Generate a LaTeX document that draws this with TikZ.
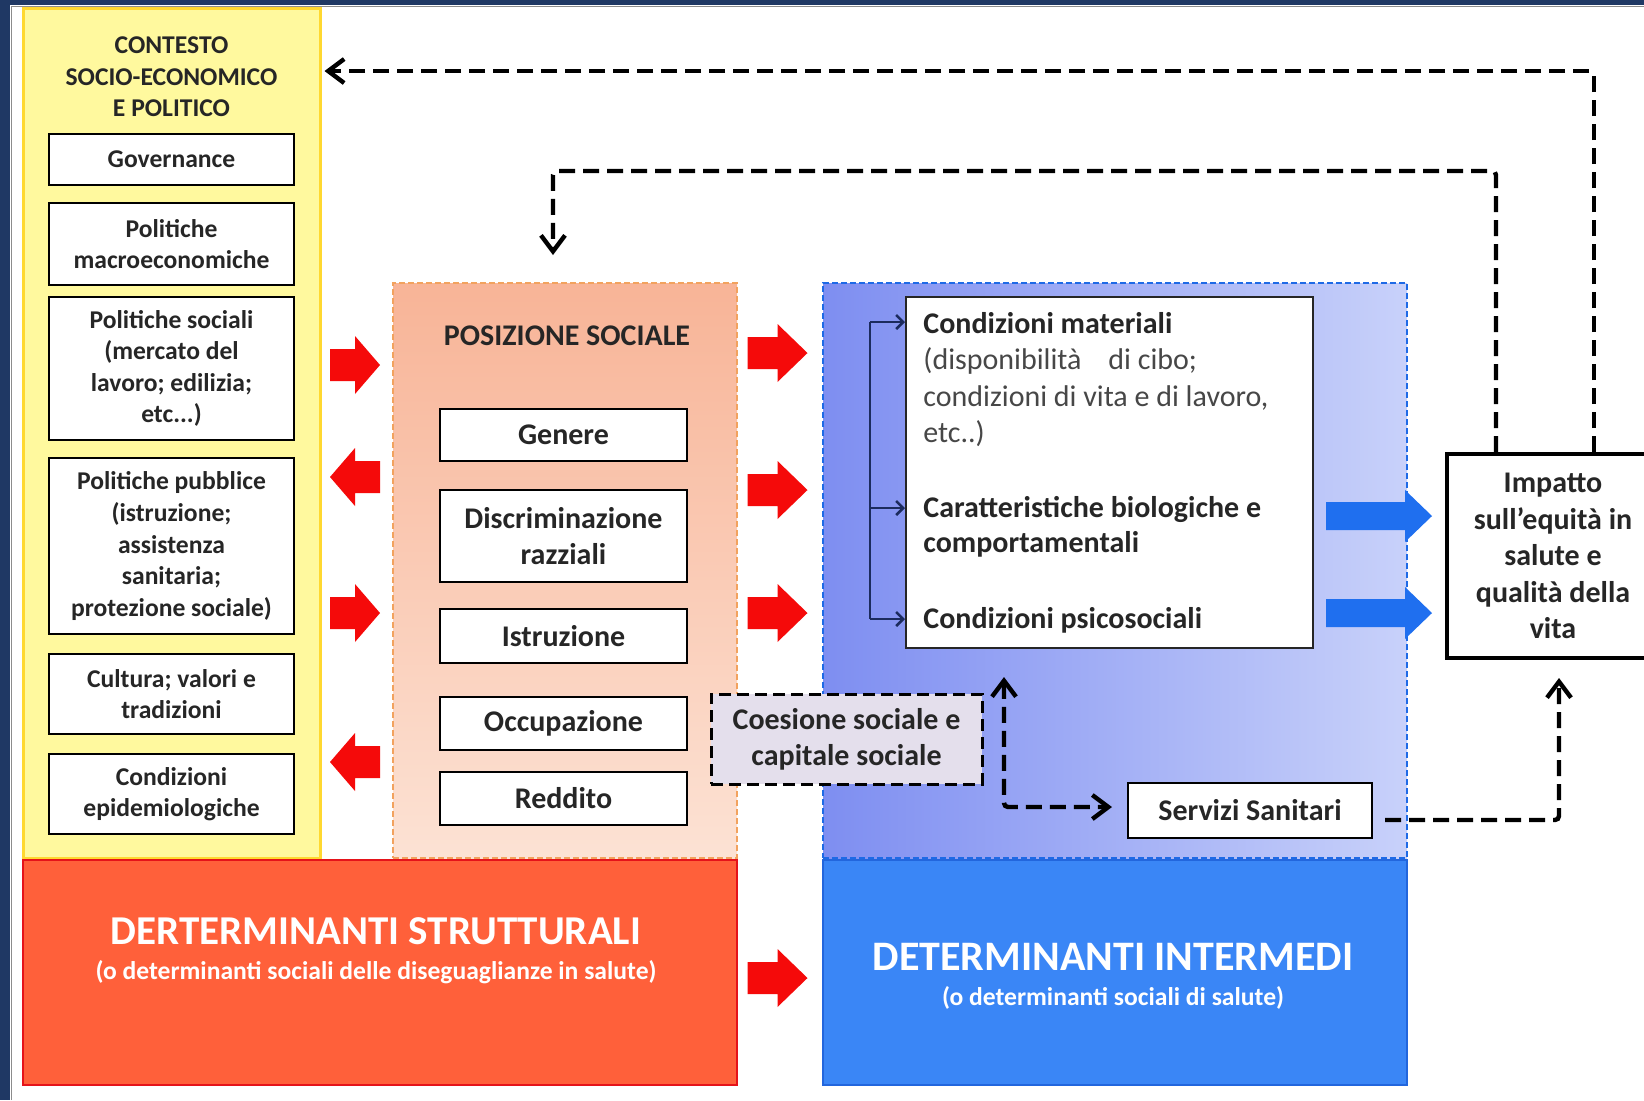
\documentclass[tikz,border=0pt]{standalone}
\usepackage{fontspec}
\setmainfont{Carlito}
\usetikzlibrary{arrows.meta}
\definecolor{navy}{HTML}{1F3864}
\definecolor{yfill}{HTML}{FFF99E}
\definecolor{ydraw}{HTML}{FFD830}
\definecolor{otop}{HTML}{F8B497}
\definecolor{obot}{HTML}{FCE2D4}
\definecolor{odraw}{HTML}{F2A25E}
\definecolor{bleft}{HTML}{7E8EF1}
\definecolor{bright}{HTML}{C8D1FA}
\definecolor{bdraw}{HTML}{1E6AE6}
\definecolor{rfill}{HTML}{FF603A}
\definecolor{rdraw}{HTML}{E5131A}
\definecolor{bbfill}{HTML}{3A86F6}
\definecolor{bbdraw}{HTML}{2266DD}
\definecolor{arrred}{HTML}{F50A0A}
\definecolor{arrblue}{HTML}{1F6FEF}
\definecolor{coes}{HTML}{E4DFEC}
\definecolor{txt}{HTML}{262626}
\definecolor{brkc}{HTML}{1C2B5E}
\begin{document}
\begin{tikzpicture}[x=0.5pt,y=-0.5pt,
  wl/.style={draw=black, line width=1pt, fill=white, inner sep=0pt, align=center, text=txt,
     font=\fontsize{12.8}{15.8}\selectfont\bfseries, minimum width=122.5pt},
  wo/.style={draw=black, line width=1.3pt, fill=white, inner sep=0pt, align=center, text=txt,
     font=\fontsize{15}{17.8}\selectfont\bfseries, minimum width=123.5pt},
  bigtxt/.style={font=\fontsize{15}{18.3}\selectfont\bfseries, text=txt, align=center},
  dashedge/.style={draw=black, line width=2.2pt, dash pattern=on 8pt off 4pt, rounded corners=2pt},
  tip/.style={-{Straight Barb[length=8pt,width=12pt]}},
  brkline/.style={draw=brkc, line width=1.3pt},
  brktip/.style={-{Straight Barb[length=3.5pt,width=7pt]}},
  redarr/.pic={\fill[arrred] (-25,-16) -- (0,-16) -- (0,-29) -- (25,0) -- (0,29) -- (0,16) -- (-25,16) -- cycle;},
  bluearr/.pic={\fill[arrblue] (-53,-14) -- (26,-14) -- (26,-26) -- (53,0) -- (26,26) -- (26,14) -- (-53,14) -- cycle;}
]
\useasboundingbox (0,0) rectangle (1644,1100);
\clip (0,0) rectangle (1644,1100);
% frame
\fill[navy] (0,0) rectangle (1644,1100);
\fill[white] (10,5) rectangle (1644,1100);
\draw[black!45, line width=0.8pt] (11.5,1100) -- (11.5,6.5) -- (1644,6.5);

% containers
\node[draw=ydraw, line width=1.5pt, fill=yfill, minimum width=148.5pt, minimum height=425pt, inner sep=0pt] (yel) at (171.5,433) {};
\node[draw=odraw, line width=0.8pt, dash pattern=on 3pt off 1.5pt, top color=otop, bottom color=obot, minimum width=172pt, minimum height=287.5pt, inner sep=0pt] (pos) at (565,570.5) {};
\node[draw=bdraw, line width=0.8pt, dash pattern=on 3pt off 1.5pt, left color=bleft, right color=bright, minimum width=292pt, minimum height=287.5pt, inner sep=0pt] (blu) at (1115,570.5) {};

% bottom boxes
\node[draw=rdraw, line width=1.2pt, fill=rfill, minimum width=357pt, minimum height=112.5pt, inner sep=0pt] (rbot) at (380,972.5) {};
\node[draw=bbdraw, line width=1.2pt, fill=bbfill, minimum width=292pt, minimum height=112.5pt, inner sep=0pt] (bbot) at (1115,972.5) {};
\node[text=white, font=\fontsize{20.5}{24}\selectfont\bfseries] (rt) at (376,931) {DERTERMINANTI STRUTTURALI};
\node[text=white, font=\fontsize{12.8}{15}\selectfont\bfseries] (rs) at (376,972) {(o determinanti sociali delle diseguaglianze in salute)};
\node[text=white, font=\fontsize{21}{24}\selectfont\bfseries] (bt) at (1113,957) {DETERMINANTI INTERMEDI};
\node[text=white, font=\fontsize{12.8}{15}\selectfont\bfseries] (bs) at (1113,998) {(o determinanti sociali di salute)};

% left column
\node[font=\fontsize{12.8}{15.75}\selectfont\bfseries, text=txt, align=center] (ctx) at (171.5,77) {CONTESTO\\SOCIO-ECONOMICO\\E POLITICO};
\node[wl, minimum height=25.5pt] (gov) at (171.5,159.5) {Governance};
\node[wl, minimum height=41pt] (macro) at (171.5,244) {Politiche\\macroeconomiche};
\node[wl, minimum height=71.5pt] (soc) at (171.5,368.5) {Politiche sociali\\(mercato del\\lavoro; edilizia;\\etc...)};
\node[wl, minimum height=88pt] (pub) at (171.5,546) {Politiche pubblice\\(istruzione;\\assistenza\\sanitaria;\\protezione sociale)};
\node[wl, minimum height=40pt] (cul) at (171.5,694) {Cultura; valori e\\tradizioni};
\node[wl, minimum height=40pt] (epi) at (171.5,794) {Condizioni\\epidemiologiche};

% posizione sociale
\node[font=\fontsize{15}{18}\selectfont\bfseries, text=txt] (pstitle) at (567,336) {POSIZIONE SOCIALE};
\node[wo, minimum height=26pt] (gen) at (563.5,435) {Genere};
\node[wo, minimum height=46pt] (dis) at (563.5,536) {Discriminazione\\razziali};
\node[wo, minimum height=27pt] (ist) at (563.5,636) {Istruzione};
\node[wo, minimum height=26.5pt] (occ) at (563.5,723.5) {Occupazione};
\node[wo, minimum height=26.5pt] (red) at (563.5,798.5) {Reddito};

% intermediate
\node[draw=black!85, line width=1pt, fill=white, minimum width=203.5pt, minimum height=175.5pt, inner sep=0pt] (cond) at (1109.5,472.5) {};
\node[anchor=base west, inner sep=0pt, font=\fontsize{15}{18}\selectfont\bfseries, text=txt] (l1) at (923,333) {Condizioni materiali};
\node[anchor=base west, inner sep=0pt, font=\fontsize{15}{18}\selectfont, text=black!72] (l2) at (923,369) {(disponibilità\hspace{0.9em}di cibo;};
\node[anchor=base west, inner sep=0pt, font=\fontsize{15}{18}\selectfont, text=black!72] (l3) at (923,406) {condizioni di vita e di lavoro,};
\node[anchor=base west, inner sep=0pt, font=\fontsize{15}{18}\selectfont, text=black!72] (l4) at (923,442) {etc..)};
\node[anchor=base west, inner sep=0pt, font=\fontsize{15}{18}\selectfont\bfseries, text=txt] (l5) at (923,517) {Caratteristiche biologiche e};
\node[anchor=base west, inner sep=0pt, font=\fontsize{15}{18}\selectfont\bfseries, text=txt] (l6) at (923,552) {comportamentali};
\node[anchor=base west, inner sep=0pt, font=\fontsize{15}{18}\selectfont\bfseries, text=txt] (l7) at (923,628) {Condizioni psicosociali};

\node[draw=black, line width=2pt, fill=white, minimum width=106.5pt, minimum height=102pt, inner sep=0pt, bigtxt] (imp) at (1553,556) {Impatto\\sull’equità in\\salute e\\qualità della\\vita};
\node[draw=black, line width=1.5pt, dash pattern=on 6pt off 3pt, fill=coes, minimum width=135.5pt, minimum height=45pt, inner sep=0pt, bigtxt, font=\fontsize{15}{18}\selectfont\bfseries] (coe) at (846.5,739) {Coesione sociale e\\capitale sociale};
\node[draw=black, line width=1pt, fill=white, minimum width=122pt, minimum height=27.5pt, inner sep=0pt, font=\fontsize{15}{18}\selectfont\bfseries, text=txt] (serv) at (1250,810.5) {Servizi Sanitari};

% bracket
\coordinate (b1) at (870,322);
\coordinate (b2) at (870,508);
\coordinate (b3) at (870,619);
\draw[brkline] (b1) -- (b3);
\draw[brkline, brktip] (b1) -- (cond.west |- b1);
\draw[brkline, brktip] (b2) -- (cond.west |- b2);
\draw[brkline, brktip] (b3) -- (cond.west |- b3);

% block arrows
\pic at (355,365) {redarr};
\pic[xscale=-1] at (355,477) {redarr};
\pic at (355,613) {redarr};
\pic[xscale=-1] at (355,762) {redarr};
\pic[xscale=1.2] at (777.5,353) {redarr};
\pic[xscale=1.2] at (777.5,490) {redarr};
\pic[xscale=1.2] at (777.5,613) {redarr};
\pic[xscale=1.2] at (777.5,978) {redarr};
\pic at (1379,516) {bluearr};
\pic at (1379,613) {bluearr};

% dashed feedback arrows
\coordinate (f1) at (1594,71);
\draw[dashedge, tip, shorten >=1.5pt] (imp.north -| f1) |- (yel.east |- f1);
\coordinate (f2) at (1496,171);
\coordinate (f2e) at (553,255);
\draw[dashedge, tip] (imp.north -| f2) |- (f2e |- f2) -- (f2e);
\coordinate (f3) at (1004,807);
\draw[dashedge, {Straight Barb[length=8pt,width=12pt]}-{Straight Barb[length=8pt,width=12pt]}, shorten <=14pt, shorten >=7.5pt] (cond.south -| f3) |- (serv.west |- f3);
\coordinate (f4) at (1559,820);
\draw[dashedge, tip, shorten <=6pt, shorten >=9pt] (serv.east |- f4) -| (imp.south -| f4);
\end{tikzpicture}
\end{document}
